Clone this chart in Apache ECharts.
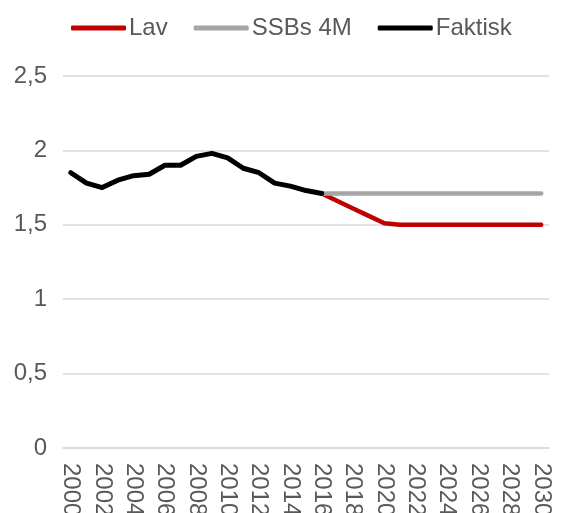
<!DOCTYPE html>
<html>
<head>
<meta charset="utf-8">
<script src="https://cdn.jsdelivr.net/npm/echarts@6/dist/echarts.min.js"></script>
<style>
html,body{margin:0;padding:0;background:#fff;}
#chart{width:562px;height:513px;}
</style>
</head>
<body>
<div id="chart"></div>
<script>
var years = [];
for (var y = 2000; y <= 2030; y++) years.push(String(y));

var faktisk = [1.85,1.78,1.75,1.80,1.83,1.84,1.90,1.90,1.96,1.98,1.95,1.88,1.85,1.78,1.76,1.73,1.71,
  null,null,null,null,null,null,null,null,null,null,null,null,null,null];
var ssb = [null,null,null,null,null,null,null,null,null,null,null,null,null,null,null,null,
  1.71,1.71,1.71,1.71,1.71,1.71,1.71,1.71,1.71,1.71,1.71,1.71,1.71,1.71,1.71];
var lav = [null,null,null,null,null,null,null,null,null,null,null,null,null,null,null,null,
  1.71,1.66,1.61,1.56,1.51,1.50,1.50,1.50,1.50,1.50,1.50,1.50,1.50,1.50,1.50];

var font = '"Liberation Sans", Arial, sans-serif';
var chart = echarts.init(document.getElementById('chart'), null, {renderer:'canvas'});
function lineSeries(name, data, color, width) {
  return {
    name: name, type: 'line', data: data, symbol: 'none', smooth: false,
    connectNulls: false,
    lineStyle: {color: color, width: width, cap: 'round', join: 'round'},
    itemStyle: {color: color},
    animation: false
  };
}
chart.setOption({
  animation: false,
  textStyle: {fontFamily: font},
  legend: {
    top: 11, left: 66,
    itemWidth: 55, itemHeight: 5, itemGap: 26,
    icon: 'roundRect',
    textStyle: {color: '#595959', fontSize: 24, fontFamily: font, padding: [0,0,0,-2]},
    data: ['Lav', 'SSBs 4M', 'Faktisk']
  },
  grid: {left: 63, right: 13, top: 76, bottom: 65, containLabel: false, outerBoundsMode: 'none'},
  xAxis: {
    type: 'category', data: years, boundaryGap: true,
    axisLine: {show: true, lineStyle: {color: '#D9D9D9', width: 1.5}},
    axisTick: {show: false},
    axisLabel: {interval: 1, rotate: -90, margin: 15, color: '#595959', fontSize: 24, fontFamily: font}
  },
  yAxis: {
    type: 'value', min: 0, max: 2.5, interval: 0.5,
    axisLine: {show: false}, axisTick: {show: false},
    splitLine: {lineStyle: {color: '#D9D9D9', width: 1.5}},
    axisLabel: {margin: 16, color: '#595959', fontSize: 24, fontFamily: font,
      formatter: function(v){ return String(v).replace('.', ','); }}
  },
  series: [
    lineSeries('Lav', lav, '#C00000', 4.5),
    lineSeries('SSBs 4M', ssb, '#A5A5A5', 4.5),
    lineSeries('Faktisk', faktisk, '#000000', 5)
  ]
});
</script>
</body>
</html>
